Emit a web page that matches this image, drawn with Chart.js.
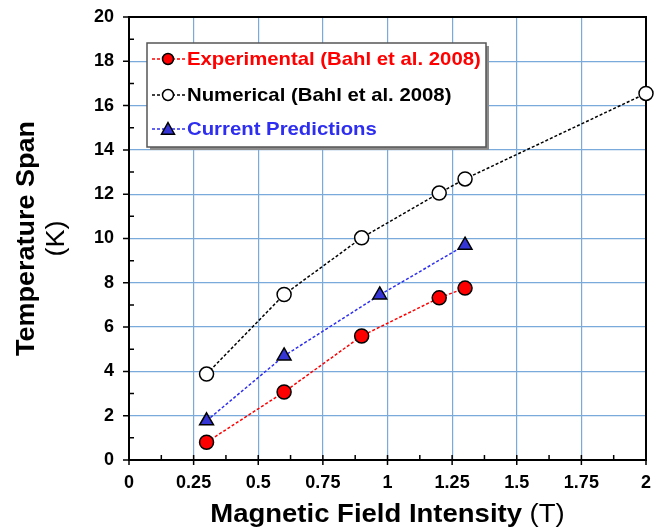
<!DOCTYPE html>
<html>
<head>
<meta charset="utf-8">
<script src="https://cdn.jsdelivr.net/npm/chart.js@4"></script>
<style>
  html, body { margin: 0; padding: 0; background: #fff; }
  #wrap { width: 664px; height: 532px; position: relative; }
</style>
</head>
<body>
<div id="wrap"><canvas id="chart"></canvas></div>
<script>
// data
const expField = [0.3, 0.6, 0.9, 1.2, 1.3];
const expSpan = [0.8, 3.07, 5.6, 7.32, 7.76];
const numField = [0.3, 0.6, 0.9, 1.2, 1.3, 2.0];
const numSpan = [3.88, 7.47, 10.03, 12.05, 12.69, 16.55];
const predField = [0.3, 0.6, 0.97, 1.3];
const predSpan = [1.77, 4.7, 7.45, 9.7];
const xTicks = [0, 0.25, 0.5, 0.75, 1, 1.25, 1.5, 1.75, 2];
const yTicks = [0, 2, 4, 6, 8, 10, 12, 14, 16, 18, 20];

const FONT = "Arial, 'Liberation Sans', sans-serif";
const gridBlue = "#7aaadc";
const red = "#ff0000";
const blue = "#2e2ef0";

function pts(xs, ys) {
  return xs.map((x, i) => ({ x: x, y: ys[i] }));
}

// mixed bold/plain text, horizontally stretched a little like the original
function mixedText(ctx, parts, cx, cy, sx) {
  let total = 0;
  parts.forEach((p) => { ctx.font = p.font; p.w = ctx.measureText(p.text).width; total += p.w; });
  ctx.save();
  ctx.translate(cx, cy);
  ctx.scale(sx, 1);
  let x = -total / 2;
  ctx.textAlign = "left";
  parts.forEach((p) => { ctx.font = p.font; ctx.fillText(p.text, x, 0); x += p.w; });
  ctx.restore();
}

// frame, tick marks, axis titles and the boxed legend
const decorPlugin = {
  id: "decor",
  beforeDatasetsDraw(chart) {
    const { ctx, chartArea: a, scales } = chart;
    const xs = scales.x, ys = scales.y;
    ctx.save();
    ctx.strokeStyle = "#000";
    ctx.lineWidth = 2;
    ctx.strokeRect(a.left, a.top, a.right - a.left, a.bottom - a.top);

    ctx.lineWidth = 1.5;
    ctx.beginPath();
    for (let v = 0; v <= 20; v += 1) {
      const y = ys.getPixelForValue(v);
      if (v % 2 === 0) { ctx.moveTo(a.left - 6, y); ctx.lineTo(a.left, y); }
      else { ctx.moveTo(a.left, y); ctx.lineTo(a.left + 5, y); }
    }
    for (let i = 0; i <= 16; i++) {
      const x = xs.getPixelForValue(i * 0.125);
      if (i % 2 === 0) { ctx.moveTo(x, a.bottom + 5); ctx.lineTo(x, a.bottom - 5); }
      else { ctx.moveTo(x, a.bottom); ctx.lineTo(x, a.bottom - 5); }
    }
    ctx.stroke();
    ctx.restore();
  },
  afterDraw(chart) {
    const { ctx, chartArea: a } = chart;
    ctx.save();
    ctx.fillStyle = "#000";
    ctx.textBaseline = "middle";
    mixedText(ctx, [
      { text: "Magnetic Field Intensity ", font: "bold 25px " + FONT },
      { text: "(T)", font: "25px " + FONT },
    ], (a.left + a.right) / 2, 515, 1.1);

    // y title, two lines rotated
    ctx.save();
    ctx.translate(0, (a.top + a.bottom) / 2);
    ctx.rotate(-Math.PI / 2);
    mixedText(ctx, [{ text: "Temperature Span", font: "bold 25px " + FONT }], 0, 27, 1.08);
    mixedText(ctx, [{ text: "(K)", font: "25px " + FONT }], 0, 57, 1.08);
    ctx.restore();

    // legend box
    const bx = 147, by = 43, bw = 339, bh = 104;
    ctx.fillStyle = "#8c8c8c";
    ctx.fillRect(bx + 3, by + 3, bw, bh);
    ctx.fillStyle = "#fff";
    ctx.fillRect(bx, by, bw, bh);
    ctx.strokeStyle = "#555";
    ctx.lineWidth = 1.5;
    ctx.strokeRect(bx, by, bw, bh);

    const order = [2, 0, 1];
    const rowsY = [59, 95, 129];
    order.forEach(function (di, r) {
      const ds = chart.data.datasets[di];
      const y = rowsY[r];
      const mx = bx + 21;
      ctx.strokeStyle = ds.borderColor;
      ctx.lineWidth = 1.5;
      ctx.setLineDash([3, 2]);
      ctx.beginPath();
      ctx.moveTo(bx + 5, y);
      ctx.lineTo(bx + 38, y);
      ctx.stroke();
      ctx.setLineDash([]);
      ctx.fillStyle = ds.pointBackgroundColor;
      ctx.strokeStyle = ds.pointBorderColor;
      ctx.lineWidth = 1.5;
      ctx.beginPath();
      const r2 = ds.pointRadius - 1.5;
      if (ds.pointStyle === "triangle") {
        ctx.moveTo(mx, y - r2);
        ctx.lineTo(mx + r2, y + r2 * 0.8);
        ctx.lineTo(mx - r2, y + r2 * 0.8);
        ctx.closePath();
      } else {
        ctx.arc(mx, y, r2, 0, Math.PI * 2);
      }
      ctx.fill();
      ctx.stroke();
      ctx.fillStyle = ds.labelColor;
      ctx.font = "bold 19px " + FONT;
      ctx.save();
      ctx.translate(bx + 40, y + 1);
      ctx.scale(1.07, 1);
      ctx.textAlign = "left";
      ctx.fillText(ds.label, 0, 0);
      ctx.restore();
    });
    ctx.restore();
  },
};

new Chart(document.getElementById("chart"), {
  type: "scatter",
  data: {
    datasets: [
      {
        label: "Numerical (Bahl et al. 2008)",
        data: pts(numField, numSpan),
        showLine: true,
        clip: false,
        borderColor: "#000",
        borderWidth: 1.5,
        borderDash: [3, 2],
        pointStyle: "circle",
        pointRadius: 7,
        pointBackgroundColor: "#fff",
        pointBorderColor: "#000",
        pointBorderWidth: 1.5,
        labelColor: "#000",
      },
      {
        label: "Current Predictions",
        data: pts(predField, predSpan),
        showLine: true,
        clip: false,
        borderColor: blue,
        borderWidth: 1.5,
        borderDash: [3, 2],
        pointStyle: "triangle",
        pointRadius: 8,
        pointBackgroundColor: "#3535d6",
        pointBorderColor: "#000",
        pointBorderWidth: 1.5,
        labelColor: blue,
      },
      {
        label: "Experimental (Bahl et al. 2008)",
        data: pts(expField, expSpan),
        showLine: true,
        clip: false,
        borderColor: red,
        borderWidth: 1.5,
        borderDash: [3, 2],
        pointStyle: "circle",
        pointRadius: 7,
        pointBackgroundColor: red,
        pointBorderColor: "#000",
        pointBorderWidth: 1.5,
        labelColor: red,
      },
    ],
  },
  options: {
    responsive: true,
    maintainAspectRatio: false,
    animation: false,
    layout: { autoPadding: false, padding: { top: 17, right: 18, left: 0, bottom: 0 } },
    plugins: { legend: { display: false }, tooltip: { enabled: false } },
    scales: {
      x: {
        type: "linear",
        min: 0,
        max: 2,
        afterBuildTicks: (s) => { s.ticks = xTicks.map((v) => ({ value: v })); },
        afterFit: (s) => { s.height = 72; s.paddingLeft = 0; s.paddingRight = 0; },
        grid: { color: gridBlue, lineWidth: 1.2, drawTicks: false },
        border: { display: false },
        ticks: {
          padding: 12,
          color: "#000",
          font: { family: FONT, size: 18, weight: "bold" },
          callback: (v) => String(v),
          maxRotation: 0,
        },
      },
      y: {
        type: "linear",
        min: 0,
        max: 20,
        afterBuildTicks: (s) => { s.ticks = yTicks.map((v) => ({ value: v })); },
        afterFit: (s) => { s.width = 129; s.paddingTop = 0; s.paddingBottom = 0; },
        grid: { color: gridBlue, lineWidth: 1.2, drawTicks: false },
        border: { display: false },
        ticks: {
          padding: 15,
          color: "#000",
          font: { family: FONT, size: 18, weight: "bold" },
        },
      },
    },
  },
  plugins: [decorPlugin],
});
</script>
</body>
</html>
